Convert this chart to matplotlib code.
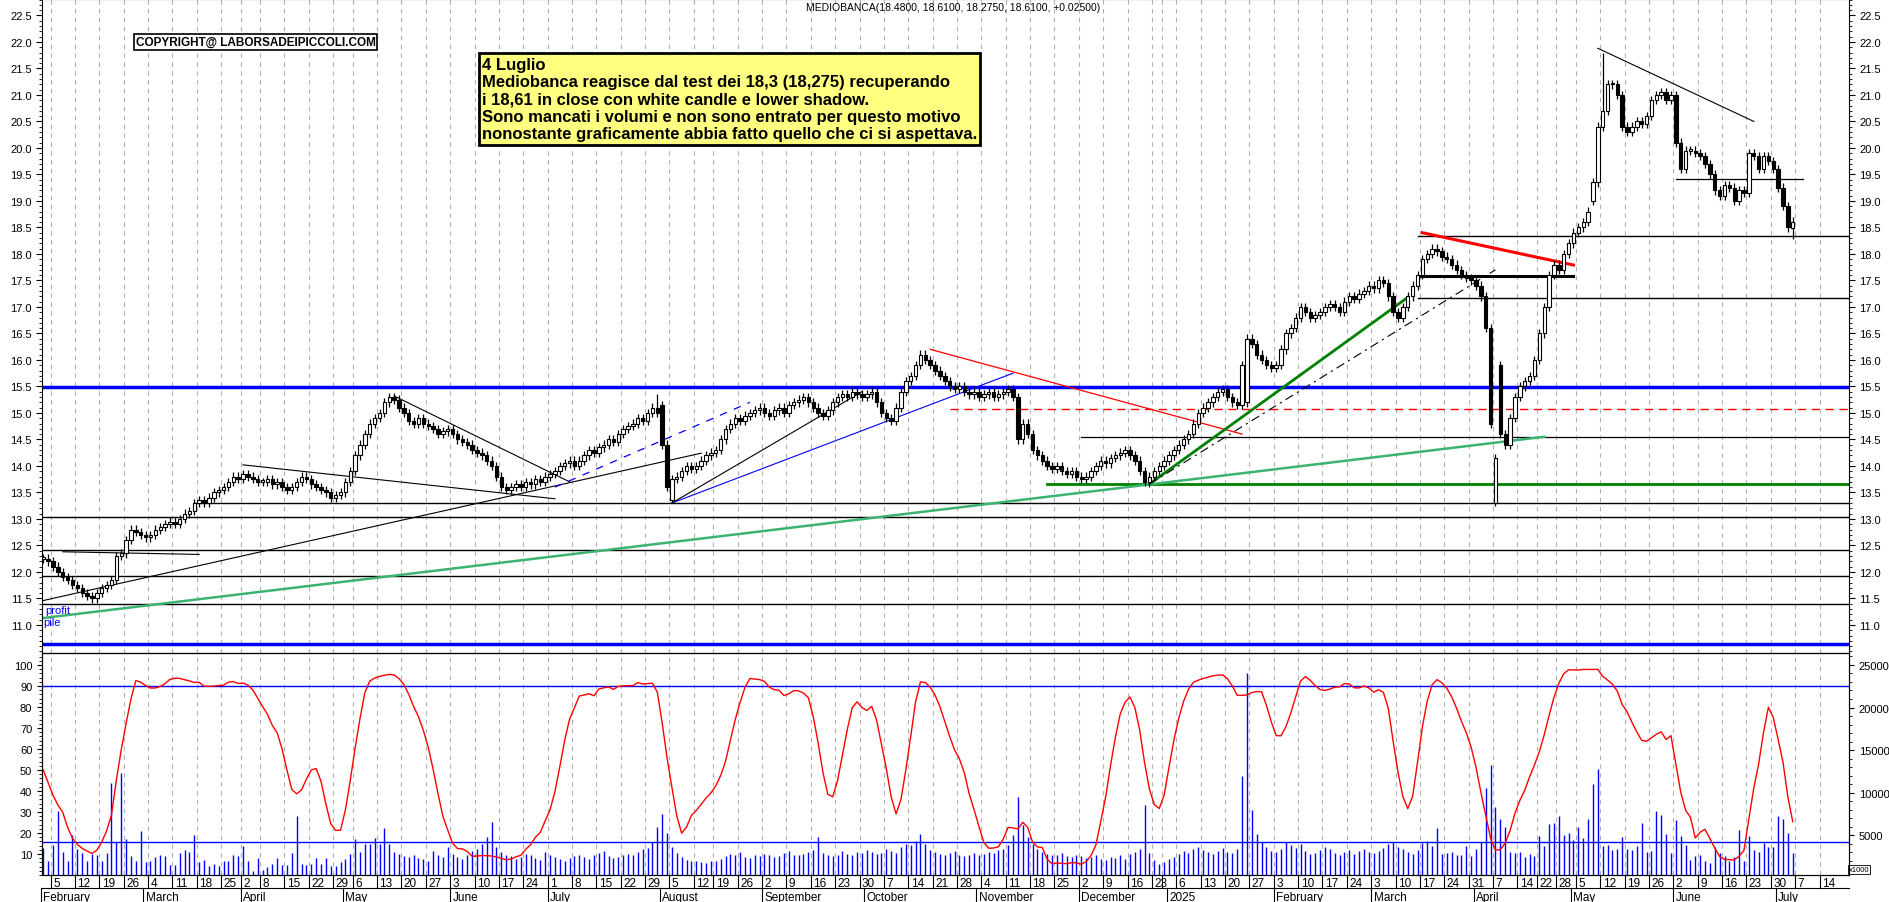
import numpy as np
import pandas as pd
import matplotlib
matplotlib.use("Agg")
import matplotlib.pyplot as plt

plt.rcParams["font.family"] = "Liberation Sans"

TITLE = "MEDIOBANCA(18.4800, 18.6100, 18.2750, 18.6100, +0.02500)"
NOTE = ("4 Luglio\n"
        "Mediobanca reagisce dal test dei 18,3 (18,275) recuperando\n"
        "i 18,61 in close con white candle e lower shadow.\n"
        "Sono mancati i volumi e non sono entrato per questo motivo\n"
        "nonostante graficamente abbia fatto quello che ci si aspettava.")

HOLIDAYS = ["2024-03-29", "2024-04-01", "2024-05-01", "2024-08-15", "2024-12-24",
            "2024-12-25", "2024-12-26", "2024-12-31", "2025-01-01", "2025-04-18",
            "2025-04-21", "2025-05-01"]

# daily closes, month by month
closes = [
    12.25, 12.2, 12.1, 12.0, 11.9, 11.85, 11.75, 11.7, 11.6, 11.55, 11.5, 11.6, 11.7, 11.75, 11.85, 12.3, 12.35, 12.6, 12.8, 12.75, 12.7,
    12.65, 12.7, 12.8, 12.85, 12.9, 12.95, 12.9, 13.0, 13.1, 13.15, 13.3, 13.35, 13.3, 13.4, 13.5, 13.55, 13.6, 13.7, 13.8, 13.75,
    13.85, 13.8, 13.75, 13.7, 13.7, 13.75, 13.65, 13.7, 13.6, 13.55, 13.6, 13.7, 13.8, 13.75, 13.65, 13.6, 13.55, 13.5, 13.4, 13.45, 13.5,
    13.7, 13.9, 14.2, 14.4, 14.6, 14.8, 14.9, 15.0, 15.2, 15.3, 15.25, 15.1, 15.0, 14.85, 14.8, 14.9, 14.8, 14.75, 14.7, 14.6, 14.65, 14.7,
    14.6, 14.5, 14.45, 14.4, 14.3, 14.25, 14.2, 14.1, 14.0, 13.8, 13.6, 13.55, 13.6, 13.65, 13.6, 13.7, 13.65, 13.75, 13.7, 13.8,
    13.85, 13.9, 14.0, 14.05, 14.1, 14.0, 14.1, 14.2, 14.3, 14.25, 14.35, 14.4, 14.5, 14.45, 14.6, 14.7, 14.75, 14.8, 14.9, 14.85, 15.0, 15.1, 15.0,
    14.4, 13.6, 13.75, 13.8, 13.9, 14.0, 13.95, 14.0, 14.1, 14.2, 14.25, 14.3, 14.5, 14.7, 14.8, 14.9, 14.85, 14.95, 15.0, 15.05, 15.1,
    15.0, 14.95, 15.05, 15.1, 15.0, 15.15, 15.2, 15.25, 15.3, 15.2, 15.1, 15.0, 14.95, 15.05, 15.2, 15.3, 15.35, 15.3, 15.4, 15.35, 15.3,
    15.35, 15.4, 15.2, 15.0, 14.9, 14.85, 15.1, 15.4, 15.6, 15.7, 15.9, 16.1, 16.0, 15.9, 15.8, 15.7, 15.6, 15.5, 15.45, 15.5, 15.4, 15.35, 15.4,
    15.3, 15.35, 15.4, 15.3, 15.35, 15.4, 15.45, 15.3, 14.5, 14.8, 14.6, 14.3, 14.2, 14.1, 14.0, 13.95, 14.0, 13.9, 13.85, 13.9, 13.8,
    13.75, 13.8, 13.9, 14.0, 14.1, 14.05, 14.15, 14.2, 14.25, 14.3, 14.2, 14.1, 13.9, 13.7, 13.8, 13.9, 14.0, 14.1,
    14.2, 14.3, 14.4, 14.5, 14.6, 14.8, 15.0, 15.1, 15.2, 15.3, 15.4, 15.45, 15.3, 15.2, 15.15, 15.9, 16.4, 16.3, 16.1, 16.0, 15.9, 15.85,
    15.9, 16.2, 16.5, 16.6, 16.8, 17.0, 16.9, 16.8, 16.85, 16.9, 17.0, 17.05, 17.0, 16.9, 17.1, 17.2, 17.15, 17.25, 17.3, 17.4,
    17.35, 17.5, 17.45, 17.2, 16.9, 16.8, 17.0, 17.2, 17.4, 17.6, 17.9, 18.0, 18.1, 18.05, 17.95, 17.9, 17.8, 17.7, 17.6, 17.55, 17.5,
    17.4, 17.2, 16.6, 14.8, 14.15, 14.6, 14.4, 14.9, 15.3, 15.5, 15.6, 15.7, 16.0, 16.5, 17.0, 17.6, 17.8, 17.7, 18.0, 18.2,
    18.4, 18.5, 18.6, 18.8, 19.35, 20.4, 20.7, 21.2, 21.2, 21.0, 20.4, 20.3, 20.4, 20.5, 20.45, 20.6, 20.9, 21.0, 21.05, 20.9, 21.0,
    20.1, 19.6, 19.95, 19.95, 19.9, 19.85, 19.7, 19.5, 19.2, 19.1, 19.3, 19.25, 19.0, 19.2, 19.15, 19.9, 19.85, 19.6, 19.85, 19.75, 19.6,
    19.25, 18.9, 18.5, 18.61,
]
open_fix = {"2024-08-01": 15.15, "2024-08-05": 13.35, "2025-01-24": 15.2, "2025-04-04": 16.6,
            "2025-04-07": 13.3, "2025-04-08": 15.9, "2025-05-08": 19.0, "2025-07-04": 18.48}
low_fix = {"2025-04-07": 13.25, "2024-08-05": 13.3, "2025-07-04": 18.275, "2024-12-20": 13.6}
high_fix = {"2025-05-12": 21.8, "2024-07-31": 15.35}

volumes = [
    3.5, 2, 3.8, 7.8, 3, 2, 5, 3.4, 2.9, 2, 2.8, 2.7, 2, 2.9, 11.1, 4.2, 12.3, 4.5, 2.5, 2, 5.5,
    1.8, 1.9, 2.4, 2.7, 2.5, 1.5, 1.5, 2.9, 3.2, 3, 5, 1.8, 2.1, 1.4, 1.6, 1.4, 1.9, 1.9, 2.7, 2.5,
    3.7, 1.9, 0.8, 2.3, 0.9, 1.2, 1.6, 2.3, 1.5, 1.5, 2.9, 7.2, 1.6, 1.5, 1.6, 2.3, 1.6, 2.3, 1.4, 1.4, 1.8,
    2.2, 2.8, 4.5, 3.0, 4.0, 3.9, 4.6, 3.9, 5.8, 4.0, 3.0, 2.8, 2.5, 2.4, 2.7, 2.3, 2.2, 2.0, 3.1, 2.6, 2.4, 3.6,
    2.8, 2.4, 2.2, 2.6, 3.1, 3.4, 4.0, 4.8, 6.5, 3.6, 3.0, 2.7, 2.5, 2.2, 2.4, 2.8, 2.6, 2.3, 2.1, 3.0,
    2.6, 2.4, 2.2, 2.0, 2.3, 2.5, 2.7, 2.4, 2.2, 2.6, 2.9, 3.1, 2.5, 2.3, 2.4, 2.7, 2.8, 2.6, 3.0, 3.3, 3.5, 4.2, 6.0,
    7.5, 5.2, 3.6, 2.9, 2.4, 2.1, 2.0, 1.9, 1.8, 1.7, 1.9, 2.0, 2.2, 2.5, 2.8, 2.6, 3.0, 2.4, 2.3, 2.7, 2.5,
    2.8, 2.6, 2.4, 2.5, 2.9, 3.1, 2.7, 2.6, 2.8, 3.0, 3.2, 4.8, 2.9, 2.7, 2.5, 2.6, 3.1, 2.8, 2.7, 3.0, 2.9,
    3.2, 3.0, 2.8, 2.9, 3.3, 3.1, 2.9, 3.6, 4.0, 3.8, 4.3, 5.1, 3.9, 3.2, 3.0, 2.8, 2.6, 2.9, 3.1, 2.7, 2.5, 2.6, 2.9,
    2.7, 2.8, 3.0, 2.9, 3.2, 3.4, 3.8, 5.0, 9.5, 6.2, 4.8, 3.9, 3.4, 3.0, 2.8, 2.7, 2.6, 2.9, 2.5, 2.4, 2.6,
    2.5, 2.3, 2.4, 2.6, 2.2, 2.1, 2.4, 2.3, 2.6, 2.2, 2.8, 3.0, 3.4, 8.5, 2.9, 2.1, 1.6, 1.8,
    2.2, 2.4, 2.8, 3.1, 2.9, 3.3, 3.6, 3.2, 3.0, 2.8, 3.1, 3.5, 3.0, 2.9, 3.4, 12.0, 24.0, 8.0, 5.1, 4.2, 3.6, 3.1,
    3.0, 3.4, 4.2, 3.8, 3.5, 3.9, 3.1, 2.8, 2.9, 3.2, 3.6, 3.3, 2.9, 2.7, 3.0, 3.2, 2.8, 3.1, 3.4, 3.0,
    2.9, 3.1, 3.5, 3.9, 4.2, 3.6, 3.3, 3.0, 2.8, 3.2, 4.1, 4.3, 3.7, 5.8, 2.8, 2.9, 3.0, 2.7, 2.7, 3.7, 2.5,
    3.4, 4.2, 10.5, 13.2, 8.3, 6.9, 5.9, 3.0, 2.9, 3.0, 2.4, 2.8, 2.5, 4.9, 3.7, 6.3, 6.4, 7.2, 5.0, 5.2,
    4.4, 5.9, 4.6, 6.9, 11.0, 12.8, 3.7, 3.8, 3.2, 3.3, 4.8, 3.3, 3.2, 3.7, 6.4, 3.0, 3.1, 7.8, 7.4, 5.1, 2.9,
    6.8, 4.9, 3.8, 2.1, 2.5, 2.7, 2.0, 1.7, 3.6, 2.9, 2.5, 1.9, 2.4, 5.6, 2.0, 4.9, 3.2, 3.0, 4.1, 3.6, 3.6,
    7.2, 6.9, 5.2, 2.9,
]

# support / resistance lines: (price, start date or None)
black_levels = [(13.03, None), (12.42, None), (11.92, None), (11.39, None), (13.3, "2024-03-15"),
                (18.33, "2025-03-14"), (17.16, "2025-03-14")]
blue_levels = [15.48, 10.64]
# trendlines: (date1, price1, date2, price2, colour, width, style)
trendlines = [
    ("2024-02-01", 11.46, "2024-08-13", 14.24, "black", 0.8, "-"),
    ("2024-04-02", 14.02, "2024-07-02", 13.38, "black", 0.8, "-"),
    ("2024-05-16", 15.32, "2024-07-05", 13.70, "black", 0.8, "-"),
    ("2024-02-07", 12.38, "2024-03-18", 12.33, "black", 0.8, "-"),
    ("2024-07-02", 13.60, "2024-08-28", 15.20, "blue", 0.9, (0, (6, 6))),
    ("2024-08-05", 13.30, "2024-11-12", 15.75, "blue", 0.8, "-"),
    ("2024-08-05", 13.30, "2024-09-30", 15.40, "black", 0.8, "-"),
    ("2024-02-01", 11.13, "2025-04-23", 14.55, "mediumseagreen", 1.8, "-"),
    ("2024-10-18", 16.20, "2025-01-23", 14.60, "red", 0.9, "-"),
    ("2024-12-20", 13.66, "2025-03-12", 17.18, "green", 2.0, "-"),
    ("2024-12-20", 13.66, "2025-04-07", 17.70, "black", 0.8, (0, (8, 4, 2, 4))),
    ("2025-03-17", 18.40, "2025-05-02", 17.79, "red", 2.2, "-"),
    ("2025-03-14", 17.58, "2025-05-02", 17.58, "black", 2.2, "-"),
    ("2025-05-09", 21.88, "2025-06-24", 20.50, "black", 0.8, "-"),
    ("2025-06-02", 19.42, "2025-07-08", 19.42, "black", 0.9, "-"),
]
partial_levels = [(15.08, "2024-10-24", "red", 1.0, (0, (6, 4))),
                  (14.55, "2024-12-02", "black", 0.9, "-"),
                  (13.66, "2024-11-21", "green", 2.0, "-")]

# trading calendar
hol = pd.to_datetime(HOLIDAYS)
cal = pd.bdate_range("2024-02-01", "2025-07-18")
cal = cal[~cal.isin(hol)]
pos = {d.strftime("%Y-%m-%d"): i for i, d in enumerate(cal)}
end = pos["2025-07-04"]
n = min(len(closes), len(volumes))
closes = np.array(closes[-n:])
volumes = np.array(volumes[-n:]) * 1000
xs = np.arange(end - n + 1, end + 1)
dates = [cal[i].strftime("%Y-%m-%d") for i in xs]

opens = np.r_[closes[0], closes[:-1]].astype(float)
for d, v in open_fix.items():
    if d in dates:
        opens[dates.index(d)] = v
highs = np.maximum(opens, closes) + 0.08
lows = np.minimum(opens, closes) - 0.08
for d, v in low_fix.items():
    if d in dates:
        lows[dates.index(d)] = v
for d, v in high_fix.items():
    if d in dates:
        highs[dates.index(d)] = v

# slow stochastic oscillator
k = np.zeros(n)
for i in range(n):
    a = max(0, i - 13)
    hh, ll = highs[a:i + 1].max(), lows[a:i + 1].min()
    k[i] = 100 * (closes[i] - ll) / (hh - ll)
osc = pd.Series(k).rolling(5, min_periods=1).mean().values

fig = plt.figure(figsize=(18.9, 9.03), dpi=100)
L, W = 42 / 1890, (1849 - 42) / 1890
ax = fig.add_axes([L, 1 - 654 / 903, W, 654 / 903])
ax2 = fig.add_axes([L, 1 - 876 / 903, W, 222 / 903])
axv = ax2.twinx()

i0, i1 = pos["2024-02-05"], pos["2025-07-14"]
s = (1822 - 53) / (i1 - i0)
xl = (i0 - (53 - 42) / s, i1 + (1849 - 1822) / s)

# weekly grid
weeks = [i for i in range(len(cal)) if i == 0 or cal[i].weekday() < cal[i - 1].weekday()]
for a in (ax, ax2):
    for i in weeks[1:]:
        a.axvline(i - 0.5, color="#b0b0b0", lw=0.8, ls=(0, (4, 4)), zorder=0)

for p, d in black_levels:
    x0 = xl[0] if d is None else pos[d]
    ax.plot([x0, xl[1]], [p, p], color="black", lw=1.0, zorder=1)
for p in blue_levels:
    ax.axhline(p, color="blue", lw=2.5, zorder=1)
for p, d, c, w, st in partial_levels:
    ax.plot([pos[d], xl[1]], [p, p], color=c, lw=w, ls=st, zorder=1)
for d1, p1, d2, p2, c, w, st in trendlines:
    ax.plot([pos[d1], pos[d2]], [p1, p2], color=c, lw=w, ls=st, zorder=2)

# candles
ax.vlines(xs, lows, highs, color="black", lw=0.9, zorder=3)
up = closes >= opens
body = np.maximum(np.abs(closes - opens), 0.025)
ax.bar(xs, body, 0.7, bottom=np.minimum(opens, closes),
       color=np.where(up, "white", "black"), edgecolor="black", lw=0.8, zorder=4)

ax.set_xlim(*xl)
ax.set_ylim(10.47, 22.81)
ax.set_xticks([])
yt = np.arange(11.0, 22.6, 0.5)
ax.set_yticks(yt)
ax.set_yticks(np.arange(10.5, 22.81, 0.1), minor=True)
ax.set_yticklabels([f"{v:.1f}" for v in yt])
ax.tick_params(axis="y", which="both", labelsize=8, right=True, labelright=True, direction="out")
ax.tick_params(axis="y", which="minor", length=2)
ax.tick_params(axis="y", which="major", length=4)

ax.text(0.423, 0.995, TITLE, transform=ax.transAxes, ha="left", va="top", fontsize=7.5)
ax.text(pos["2024-02-28"], 22.0, "COPYRIGHT@ LABORSADEIPICCOLI.COM", fontsize=8.5, fontweight="bold",
        va="center", bbox=dict(boxstyle="square,pad=0.15", fc="white", ec="black", lw=1.2))
ax.text(pos["2024-06-11"], 21.72, NOTE, fontsize=12, fontweight="bold", va="top", linespacing=1.2,
        bbox=dict(boxstyle="square,pad=0.2", fc="#ffff80", ec="black", lw=2))
ax.text(xl[0] + 0.6, 11.28, "profit", color="blue", fontsize=8, va="center")
ax.text(xl[0] + 0.2, 11.05, "pile", color="blue", fontsize=8, va="center")

# lower panel
axv.vlines(xs, 0, volumes, color="blue", lw=1.0, zorder=1)
ax2.plot(xs, osc, color="red", lw=1.0, zorder=3)
ax2.set_zorder(axv.get_zorder() + 1)
ax2.patch.set_visible(False)
ax2.axhline(90, color="blue", lw=1.0)
ax2.axhline(15.5, color="blue", lw=1.0)
ax2.set_xlim(*xl)
ax2.set_ylim(0, 105.7)
ax2.set_yticks(range(10, 101, 10))
ax2.set_yticks(range(0, 106, 2), minor=True)
ax2.tick_params(axis="y", which="both", labelsize=8, direction="out")
ax2.tick_params(axis="y", which="minor", length=2)
axv.set_ylim(300, 26410)
axv.set_yticks(range(5000, 25001, 5000))
axv.set_yticks(range(1000, 26001, 1000), minor=True)
axv.tick_params(axis="y", which="both", labelsize=8, direction="out")
axv.tick_params(axis="y", which="minor", length=2)
axv.text(1.0, 0.01, "x1000", transform=axv.transAxes, fontsize=5.5, ha="left", va="bottom",
         bbox=dict(boxstyle="square,pad=0.1", fc="white", ec="black", lw=0.6))
ax2.set_xticks([])

# date rows
tr = ax2.get_xaxis_transform()
for i in weeks[1:]:
    ax2.plot([i - 0.5, i - 0.5], [0, -0.06], transform=tr, color="black", lw=0.8, clip_on=False)
    if cal[i].month == 12 and cal[i].day > 27:
        continue
    ax2.text(i, -0.01, str(cal[i].day), transform=tr,
             ha="left", va="top", fontsize=8.5, clip_on=False)
months = [i for i in range(len(cal)) if i == 0 or cal[i].month != cal[i - 1].month]
for i in months:
    name = "2025" if cal[i].month == 1 else cal[i].strftime("%B")
    ax2.plot([i - 0.5, i - 0.5], [-0.06, -0.12], transform=tr,
             color="black", lw=0.8, clip_on=False)
    ax2.text(i, -0.072, name, transform=tr,
             ha="left", va="top", fontsize=8.5, clip_on=False)
ax2.plot(xl, [-0.06, -0.06], transform=tr, color="black", lw=0.8, clip_on=False)

fig.savefig("out.png", dpi=100)
